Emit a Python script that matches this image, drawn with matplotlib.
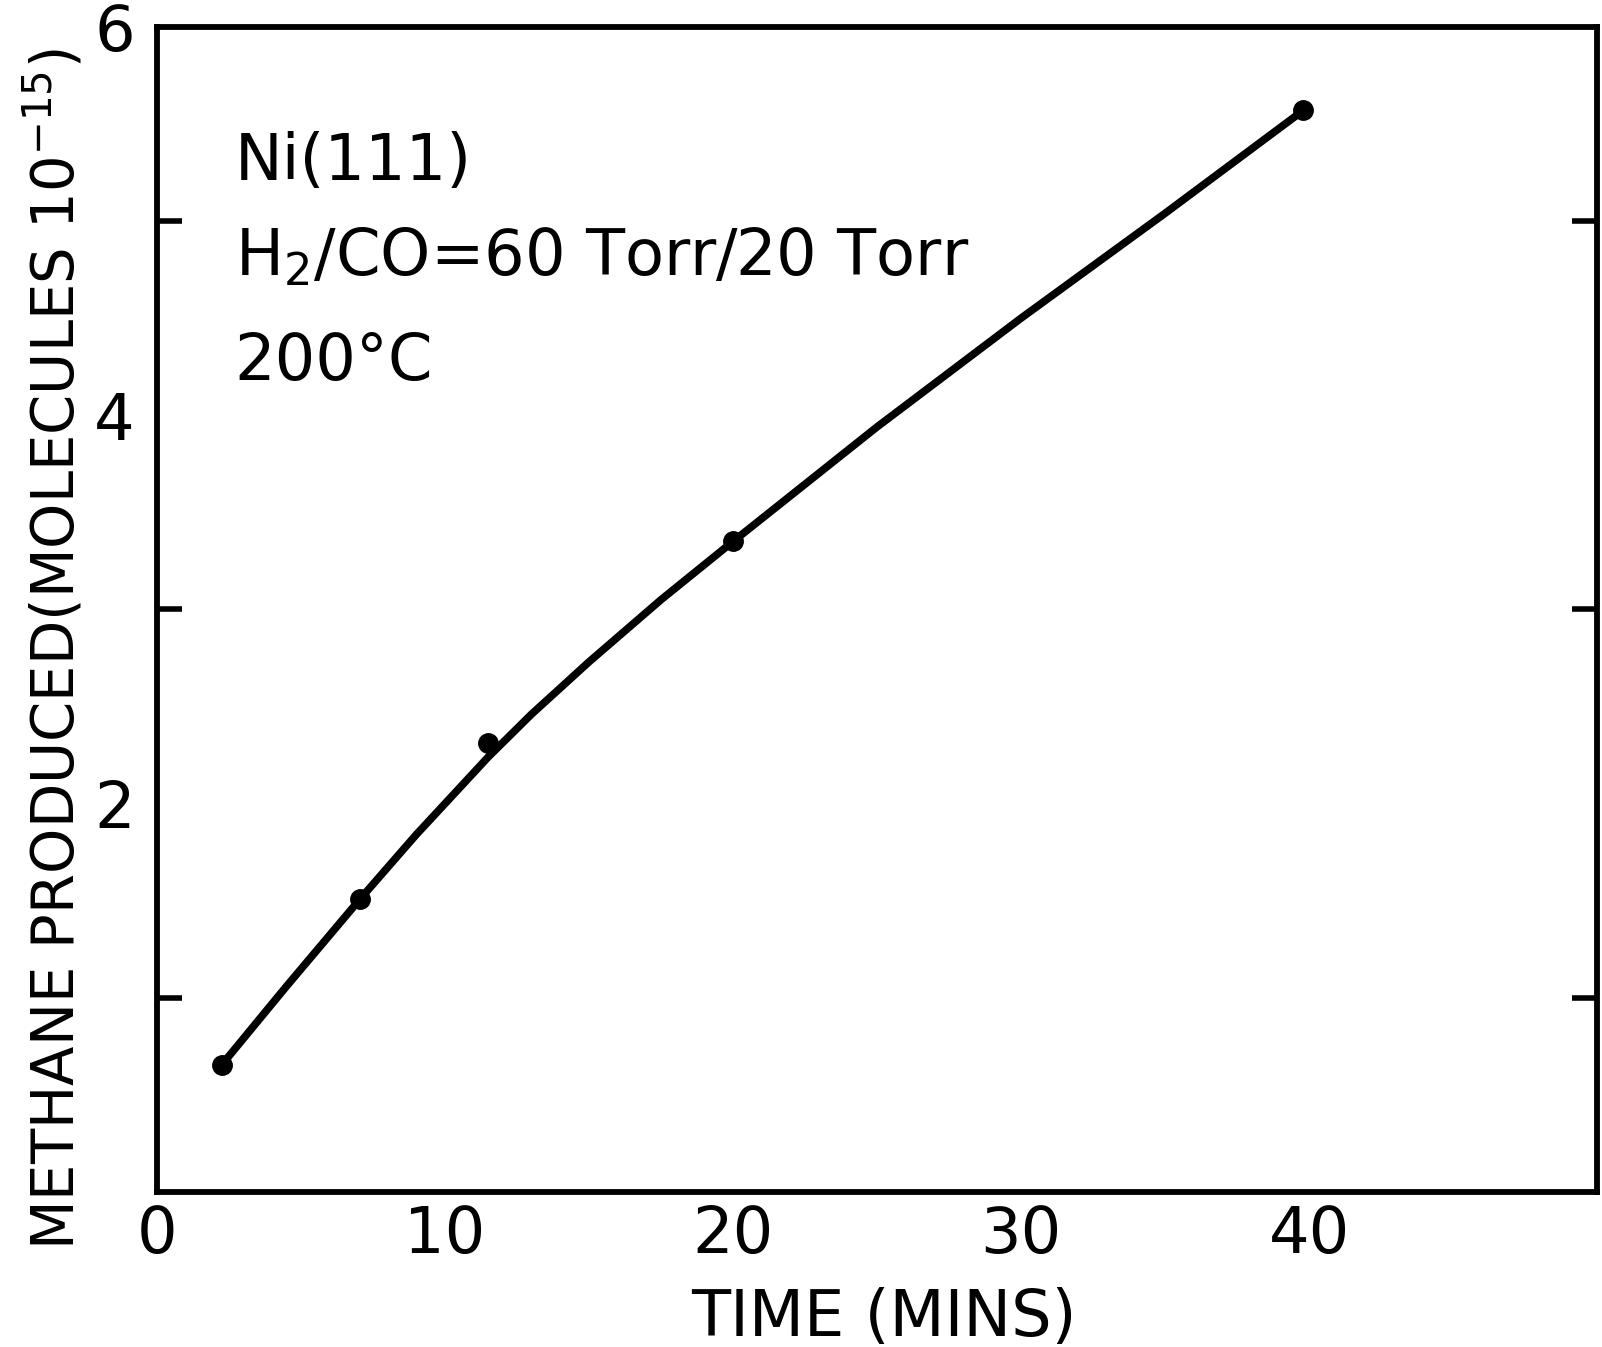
import matplotlib
matplotlib.use("Agg")
import matplotlib.pyplot as plt

# measured points (time in min, CH4 in 1e15 molecules)
time_pts = [2.25, 7.06, 11.5, 20.0, 39.8]
methane_pts = [0.655, 1.51, 2.31, 3.35, 5.57]

# hand-drawn smooth curve
curve_t = [2.25, 4.5, 7.06, 9.0, 11.5, 13.0, 15.0, 17.5, 20.0, 25.0, 30.0, 35.0, 39.8]
curve_y = [0.655, 1.06, 1.51, 1.84, 2.24, 2.46, 2.73, 3.05, 3.35, 3.94, 4.50, 5.04, 5.57]

x_ticks = [10, 20, 30, 40]
x_labels = ["0", "10", "20", "30", "40"]
y_major = [2, 4, 6]
y_minor = [1, 2, 3, 4, 5]

plt.rcParams['font.family'] = ['DejaVu Sans']
fs = 46

fig = plt.figure(figsize=(16.02, 13.47), dpi=100)
ax = fig.add_axes([0.098, 0.1151, 0.8989, 0.8649])

ax.plot(curve_t, curve_y, color='k', lw=5.5, solid_capstyle='round',
        solid_joinstyle='round')
ax.plot(time_pts, methane_pts, 'o', color='k', ms=14)

ax.set_xlim(0, 50)
ax.set_ylim(0, 6)

for s in ax.spines.values():
    s.set_linewidth(4.2)

# bottom axis: labels at 0..40, ticks at 10..40
ax.set_xticks([0] + x_ticks)
ax.set_xticklabels(x_labels)
ax.set_yticks(y_major)
ax.set_yticklabels([str(v) for v in y_major])
ax.set_yticks(y_minor, minor=True)
ax.set_xticks(x_ticks, minor=True)
ax.tick_params(axis='both', which='major', length=0, labelsize=fs)
ax.tick_params(axis='x', which='major', pad=9)
ax.tick_params(axis='y', which='major', pad=16)
ax.tick_params(which='minor', direction='in', length=18, width=4,
               top=True, right=True, bottom=True, left=True)

ax.text(0.054, 0.884, "Ni(111)", transform=ax.transAxes, fontsize=fs,
        ha='left', va='center')
ax.text(0.054, 0.802, "H$_2$/CO=60 Torr/20 Torr", transform=ax.transAxes,
        fontsize=fs, ha='left', va='center')
ax.text(0.054, 0.712, "200°C", transform=ax.transAxes, fontsize=fs,
        ha='left', va='center')

ax.set_xlabel("TIME (MINS)", fontsize=fs, va='center')
ax.xaxis.set_label_coords(0.505, -0.108)
ax.set_ylabel("METHANE PRODUCED(MOLECULES 10$^{-15}$)", fontsize=41.5, va='center')
ax.yaxis.set_label_coords(-0.071, 0.466)

fig.savefig("out.png", dpi=100)
